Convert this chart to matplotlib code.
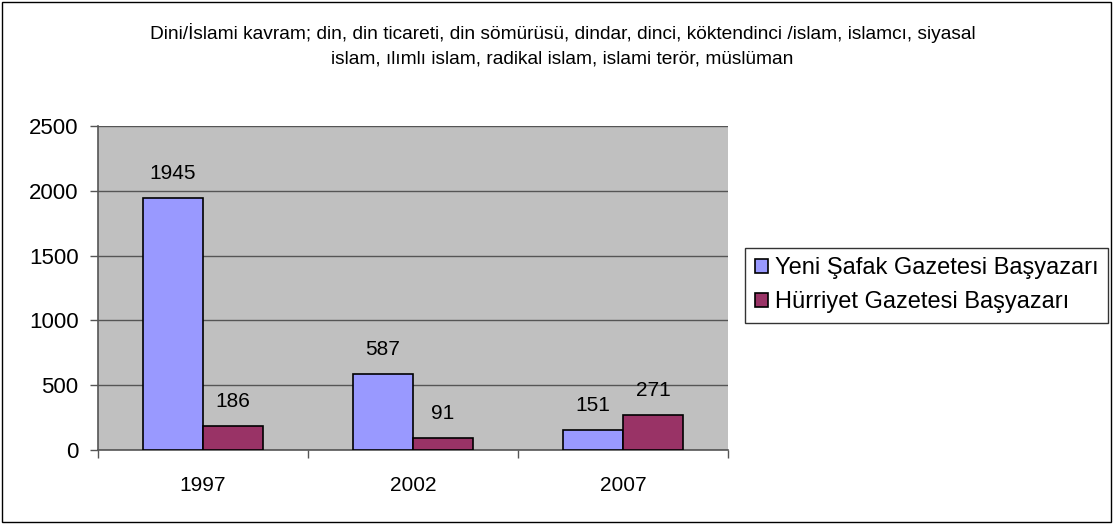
import numpy as np
import matplotlib.pyplot as plt
from matplotlib.patches import Rectangle

plt.rcParams['font.family'] = ['Liberation Sans', 'DejaVu Sans']

# Data
years = ['1997', '2002', '2007']
yeni_safak = [1945, 587, 151]
hurriyet = [186, 91, 271]
series_names = ['Yeni Şafak Gazetesi Başyazarı', 'Hürriyet Gazetesi Başyazarı']
title = ('Dini/İslami kavram; din, din ticareti, din sömürüsü, dindar, dinci, köktendinci /islam, islamcı, siyasal\n'
         'islam, ılımlı islam, radikal islam, islami terör, müslüman')

fig = plt.figure(figsize=(11.14, 5.24), dpi=100)
ax = fig.add_axes([0.088, 0.1412, 0.5655, 0.6183])
ax.set_facecolor('#C0C0C0')

x = np.arange(len(years))
w = 0.2857
b1 = ax.bar(x - w / 2, yeni_safak, w, color='#9999FF', edgecolor='black', linewidth=1.2,
            label=series_names[0], zorder=3)
b2 = ax.bar(x + w / 2, hurriyet, w, color='#993366', edgecolor='black', linewidth=1.2,
            label=series_names[1], zorder=3)
ax.bar_label(b1, padding=11, fontsize=15)
ax.bar_label(b2, padding=11, fontsize=15)

ax.set_xlim(-0.5, len(years) - 0.5)
ax.set_ylim(0, 2500)
ax.set_yticks(np.arange(0, 2501, 500))
ax.set_xticks(x)
ax.set_xticklabels(years)
ax.set_xticks(np.arange(-0.5, len(years), 1), minor=True)
ax.tick_params(axis='x', which='major', length=0, pad=19, labelsize=15)
ax.tick_params(axis='x', which='minor', length=6, width=1, color='#555555')
ax.tick_params(axis='y', length=6, width=1, color='#555555', pad=8, labelsize=16)

ax.grid(axis='y', color='#555555', linewidth=1, zorder=1)
ax.set_axisbelow(True)
for s in ['top', 'right']:
    ax.spines[s].set_visible(False)
for s in ['left', 'bottom']:
    ax.spines[s].set_color('#555555')
    ax.spines[s].set_linewidth(1.2)

fig.text(0.505, 0.914, title, ha='center', va='center', fontsize=13.8, linespacing=1.6)

leg = fig.legend(loc='upper left', bbox_to_anchor=(0.669, 0.527), fontsize=17,
                 frameon=True, fancybox=False, edgecolor='black', handlelength=0.55,
                 handleheight=0.55, handletextpad=0.3, borderpad=0.4, labelspacing=0.5,
                 borderaxespad=0)
leg.get_frame().set_linewidth(1)

fig.patches.append(Rectangle((0.002, 0.004), 0.995, 0.992, transform=fig.transFigure,
                             fill=False, edgecolor='black', linewidth=1))

fig.savefig('out.png', dpi=100)
